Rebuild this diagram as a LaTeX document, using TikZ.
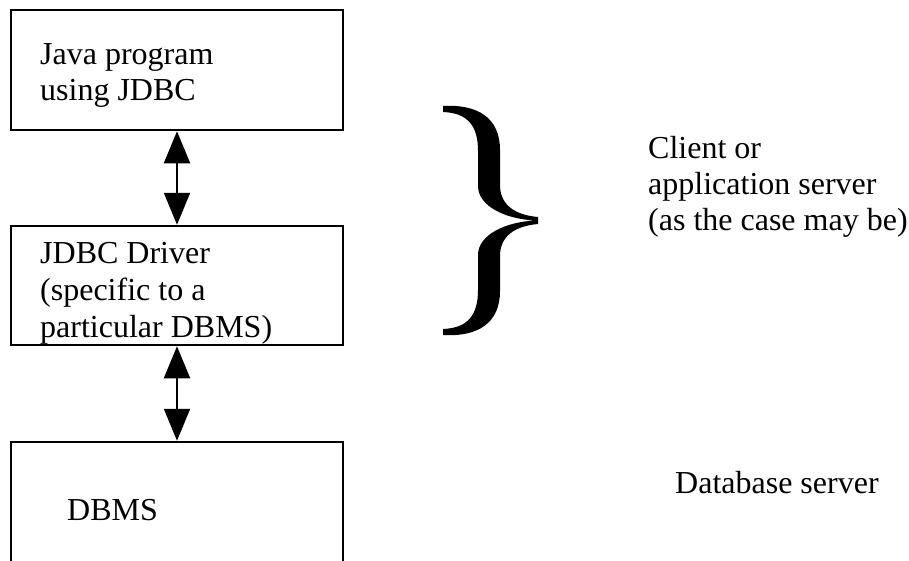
\documentclass[tikz,border=0pt]{standalone}
\usepackage{fontspec}
\setmainfont{Liberation Serif}
\usetikzlibrary{arrows.meta}

\tikzset{
	box/.style={draw, line width=2.5pt, minimum width=332pt, inner sep=0pt},
	txt/.style={align=left, inner sep=0pt, font=\fontsize{32}{36}\selectfont},
	twoway/.style={line width=2pt, {Triangle[length=32pt,width=26pt]}-{Triangle[length=32pt,width=26pt]}}
}

\begin{document}
\begin{tikzpicture}[x=1pt, y=-1pt]
			\useasboundingbox (0, 0) rectangle (909, 560);

			\node[box, minimum height=120pt] (java) at (177, 70) {};
			\node[box, minimum height=119pt] (driver) at (177, 285.5) {};
			\node[box, minimum height=140pt] (dbms) at (177, 512) {};
			\draw[twoway] (java) to (driver);
			\draw[twoway] (driver) to (dbms);

			\node[txt, anchor=base west] (javatxt) at (40, 100) {Java program\\using JDBC};
			\node[txt, anchor=base west, font=\fontsize{32}{37}\selectfont] (drivertxt) at (40, 337) {JDBC Driver\\(specific to a\\particular DBMS)};
			\node[txt, anchor=base west] (dbmstxt) at (67, 520) {DBMS};

			\fill (443, 106) .. controls (478, 104) and (500, 118) .. (500, 150)
				-- (500, 185) .. controls (500, 205) and (515, 215) .. (538, 217)
				-- (538, 224) .. controls (515, 226) and (500, 236) .. (500, 256)
				-- (500, 291) .. controls (500, 323) and (478, 337) .. (443, 335)
				-- (443, 329) .. controls (468, 328) and (478, 315) .. (478, 290)
				-- (478, 255) .. controls (478, 235) and (505, 222) .. (535, 220.5)
				.. controls (505, 219) and (478, 206) .. (478, 186)
				-- (478, 151) .. controls (478, 126) and (468, 113) .. (443, 112) -- cycle;

			\node[txt, anchor=base west] (clienttxt) at (648, 230) {Client or\\application server\\(as the case may be)};
			\node[txt, anchor=base west] (dbservertxt) at (675, 493) {Database server};
		\end{tikzpicture}
\end{document}
